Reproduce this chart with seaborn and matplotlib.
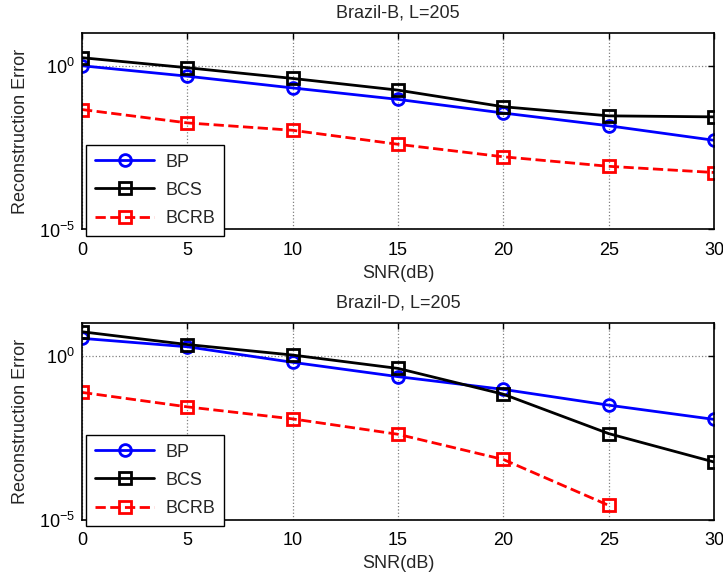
import numpy as np
import pandas as pd
import matplotlib
matplotlib.use("Agg")
import matplotlib.pyplot as plt
import seaborn as sns
from matplotlib.ticker import FixedLocator, NullLocator, LogFormatterSciNotation

# SNR sweep (dB)
snr = [0, 5, 10, 15, 20, 25, 30]

# Brazil-B, L=205
b_bp = [1.0, 0.48, 0.21, 0.094, 0.036, 0.0147, 0.0053]
b_bcs = [1.76, 0.87, 0.41, 0.18, 0.056, 0.0295, 0.0275]
b_bcrb = [0.046, 0.018, 0.0107, 0.0040, 0.00166, 0.00085, 0.00055]

# Brazil-D, L=205
d_bp = [3.4, 1.88, 0.63, 0.23, 0.094, 0.031, 0.0114]
d_bcs = [5.4, 2.2, 1.05, 0.41, 0.067, 0.0042, 0.00057]
d_bcrb = [0.076, 0.0275, 0.0118, 0.0040, 0.00068, 2.7e-5, np.nan]

titles = ["Brazil-B, L=205", "Brazil-D, L=205"]
labels = ["BP", "BCS", "BCRB"]

sns.set_style("white")
plt.rcParams["font.family"] = ["Liberation Sans", "DejaVu Sans"]
plt.rcParams["mathtext.fontset"] = "custom"
plt.rcParams["mathtext.rm"] = "Liberation Sans"
plt.rcParams["mathtext.it"] = "Liberation Sans:italic"
plt.rcParams["mathtext.bf"] = "Liberation Sans:bold"

FS = 13

styles = {
    "BP": dict(color="#0000ff", marker="o", linestyle="-"),
    "BCS": dict(color="#000000", marker="s", linestyle="-"),
    "BCRB": dict(color="#ff0000", marker="s", linestyle="--"),
}

fig = plt.figure(figsize=(7.23, 5.84), dpi=100)
W, H = 723, 584
left, right = 82, 714
panels = [(33, 229.5), (323, 519.5)]

datasets = [
    {"BP": b_bp, "BCS": b_bcs, "BCRB": b_bcrb},
    {"BP": d_bp, "BCS": d_bcs, "BCRB": d_bcrb},
]

for (top, bottom), data, title in zip(panels, datasets, titles):
    ax = fig.add_axes([left / W, 1 - bottom / H, (right - left) / W, (bottom - top) / H])
    for name in labels:
        df = pd.DataFrame({"snr": snr, "err": data[name]}).dropna()
        st = styles[name]
        sns.lineplot(data=df, x="snr", y="err", ax=ax, color=st["color"],
                     marker=st["marker"], linestyle=st["linestyle"],
                     linewidth=2, markersize=9 if st["marker"] == "s" else 8.5,
                     markerfacecolor="none", markeredgecolor=st["color"],
                     markeredgewidth=2, label=name, dashes=False if st["linestyle"] == "-" else (3, 2))
    ax.set_yscale("log")
    ax.set_xlim(0, 30)
    ax.set_ylim(1e-5, 10)
    ax.xaxis.set_major_locator(FixedLocator(snr))
    ax.yaxis.set_major_locator(FixedLocator([1e-5, 1]))
    ax.yaxis.set_minor_locator(NullLocator())
    ax.yaxis.set_major_formatter(LogFormatterSciNotation())
    ax.grid(True, which="major", linestyle=":", color="#808080", linewidth=0.9)
    ax.tick_params(direction="in", top=True, right=True, length=4, width=1,
                   labelsize=FS, colors="black")
    ax.tick_params(axis="x", pad=9)
    ax.tick_params(axis="y", pad=5)
    for sp in ax.spines.values():
        sp.set_color("black")
        sp.set_linewidth(1.2)
    ax.set_title(title, fontsize=FS, pad=11)
    ax.set_xlabel("SNR(dB)", fontsize=FS, labelpad=4)
    ax.set_ylabel("Reconstruction Error", fontsize=FS, labelpad=7)
    leg = ax.legend(loc="lower left", bbox_to_anchor=(0.006, -0.033), borderaxespad=0,
                    fontsize=FS, frameon=True, fancybox=False, handlelength=3.3,
                    labelspacing=0.62, borderpad=0.5, handletextpad=0.6)
    leg.get_frame().set_edgecolor("black")
    leg.get_frame().set_linewidth(1.0)
    leg.get_frame().set_alpha(1)

fig.savefig("out.png", dpi=100)
